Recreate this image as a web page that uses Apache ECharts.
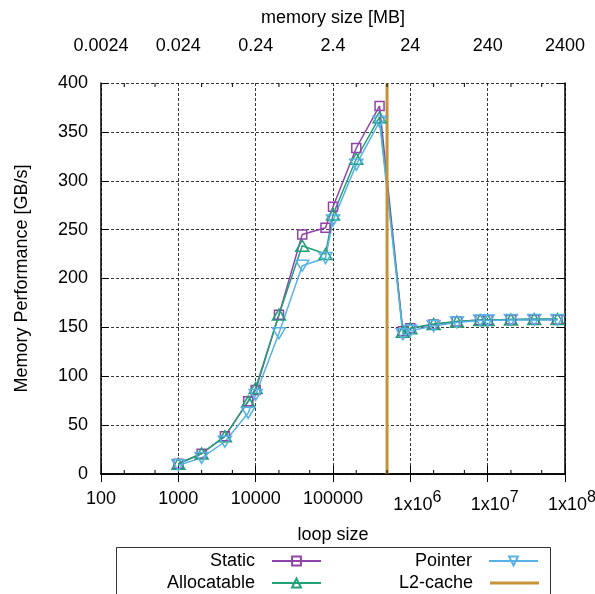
<!DOCTYPE html>
<html>
<head>
<meta charset="utf-8">
<script src="https://cdn.jsdelivr.net/npm/echarts@6/dist/echarts.min.js"></script>
<style>
html, body { margin: 0; padding: 0; background: #fff; }
#chart { width: 595px; height: 594px; }
</style>
</head>
<body>
<div id="chart"></div>
<script>
// Loop sizes of the benchmark runs
const loopSize = [1000, 2000, 4000, 8000, 10000, 20000, 40000, 80000, 100000, 200000, 400000,
  800000, 1000000, 2000000, 4000000, 8000000, 10000000, 20000000, 40000000, 80000000];
// Memory performance in GB/s for each array kind
const staticPerf = [10.5, 20.7, 38.5, 74.5, 86, 163, 245, 252, 273.5, 333.5, 376.5,
  146, 149, 153, 156, 157.5, 157.5, 158, 158, 158];
const allocatablePerf = [10.5, 21, 38.5, 74, 88, 163, 233.5, 225, 265.5, 322.5, 365,
  145.5, 149, 153.5, 156, 157.5, 157.5, 158, 158.5, 158.5];
const pointerPerf = [9, 16.5, 33, 62.5, 81, 144, 213, 221, 259.5, 316.5, 360.5,
  143, 146.5, 151.5, 155, 157, 157, 157.5, 157.5, 157.5];
// Loop size at which the data no longer fits in L2 cache
const l2CacheLoop = 500000;

// Axis tick labels (one per decade, 100 .. 1e8)
const bottomTickLabels = ['100', '1000', '10000', '100000', '1x10^6', '1x10^7', '1x10^8'];
const topTickLabels = ['0.0024', '0.024', '0.24', '2.4', '24', '240', '2400'];
const minorTickFactors = [2, 5];

const FONT = 'Liberation Sans, Arial, Helvetica, sans-serif';
const FS = 18;
const C_STATIC = '#9044aa';
const C_ALLOC = '#22a078';
const C_POINTER = '#58b2e6';
const C_L2 = '#c4933a';
const X_MIN = 100, X_MAX = 1e8, Y_MIN = 0, Y_MAX = 400;

const zip = (xs, ys) => xs.map((x, i) => [x, ys[i]]);
const decadeIndex = v => Math.round(Math.log10(v)) - 2;

// minor ticks at 2x and 5x of each decade
const minorTicks = [];
for (let d = X_MIN; d < X_MAX; d *= 10) {
  minorTickFactors.forEach(f => minorTicks.push([d * f, 0]));
}

const gridLine = { show: true, lineStyle: { color: 'rgba(0,0,0,0.78)', width: 1, type: [3, 2] } };
const axisLine = { show: true, lineStyle: { color: '#000', width: 1.5 } };
const tickIn = { show: true, inside: true, length: 8, lineStyle: { color: '#000', width: 1 } };

function legendAt(item, right, top, extra) {
  return Object.assign({
    data: [item], right: right, top: top, orient: 'horizontal', align: 'right',
    itemWidth: 49, itemHeight: 11, padding: 0, selectedMode: false,
    textStyle: { fontFamily: FONT, fontSize: FS, color: '#000', padding: [0, 12, 0, 0] }
  }, extra || {});
}

function lineSeries(name, values, color, symbol, size, rotate) {
  return {
    type: 'line', name: name, data: zip(loopSize, values),
    xAxisIndex: 0, yAxisIndex: 0,
    symbol: symbol, symbolSize: size, symbolRotate: rotate || 0,
    lineStyle: { color: color, width: 1.5 },
    itemStyle: { color: 'rgba(255,255,255,0)', borderColor: color, borderWidth: 1.5 },
    emphasis: { disabled: true }, animation: false
  };
}

const chart = echarts.init(document.getElementById('chart'), null, { renderer: 'canvas' });
chart.setOption({
  backgroundColor: '#fff',
  animation: false,
  textStyle: { fontFamily: FONT },
  grid: { left: 101, right: 30, top: 83, bottom: 120, containLabel: false, outerBoundsMode: 'none' },
  xAxis: [{
    type: 'log', logBase: 10, min: X_MIN, max: X_MAX, splitNumber: 6, position: 'bottom',
    name: 'loop size', nameLocation: 'middle', nameGap: 52, nameMoveOverlap: false,
    nameTextStyle: { fontFamily: FONT, fontSize: FS, color: '#000' },
    axisLine: axisLine, axisTick: tickIn, splitLine: gridLine,
    axisLabel: {
      margin: 16, color: '#000', fontFamily: FONT, fontSize: FS,
      showMinLabel: true, showMaxLabel: true,
      formatter: function (v) {
        const s = bottomTickLabels[decadeIndex(v)];
        if (s === undefined) return '';
        if (s.indexOf('^') < 0) return s;
        const parts = s.split('^');
        return '{b|' + parts[0] + '}{s|' + parts[1] + '}';
      },
      rich: {
        b: { fontFamily: FONT, fontSize: FS, color: '#000', padding: [0, 0, 0, 14] },
        s: { fontFamily: FONT, fontSize: 16, color: '#000', padding: [0, 0, 14, 0] }
      }
    }
  }, {
    type: 'log', logBase: 10, min: X_MIN, max: X_MAX, splitNumber: 6, position: 'top',
    name: 'memory size [MB]', nameLocation: 'middle', nameGap: 56, nameMoveOverlap: false,
    nameTextStyle: { fontFamily: FONT, fontSize: FS, color: '#000' },
    axisLine: axisLine, axisTick: tickIn, splitLine: { show: false },
    axisLabel: {
      margin: 28, color: '#000', fontFamily: FONT, fontSize: FS,
      showMinLabel: true, showMaxLabel: true,
      formatter: function (v) { return topTickLabels[decadeIndex(v)] || ''; }
    }
  }],
  yAxis: [{
    type: 'value', min: Y_MIN, max: Y_MAX, interval: 50, position: 'left',
    name: 'Memory Performance [GB/s]', nameLocation: 'middle', nameGap: 70, nameMoveOverlap: false,
    nameTextStyle: { fontFamily: FONT, fontSize: FS, color: '#000' },
    axisLine: axisLine, axisTick: tickIn, splitLine: gridLine,
    axisLabel: { margin: 13, color: '#000', fontFamily: FONT, fontSize: FS }
  }, {
    type: 'value', min: Y_MIN, max: Y_MAX, interval: 50, position: 'right',
    axisLine: axisLine, axisTick: tickIn, splitLine: { show: false },
    axisLabel: { show: false }
  }],
  legend: [
    legendAt('Static', 273, 552),
    legendAt('Allocatable', 273, 574),
    legendAt('Pointer', 56, 552),
    legendAt({ name: 'L2-cache', icon: 'rect' }, 56, 574, { itemHeight: 3 })
  ],
  graphic: [{
    type: 'rect', shape: { x: 116.5, y: 547.5, width: 434, height: 60 },
    style: { fill: 'none', stroke: '#333', lineWidth: 1 }, silent: true, z: 0
  }],
  series: [
    {
      type: 'custom', name: 'minor-ticks', data: minorTicks, silent: true,
      xAxisIndex: 0, yAxisIndex: 0, clip: false, z: 5,
      renderItem: function (params, api) {
        const x = api.value(0);
        const b = api.coord([x, Y_MIN]);
        const t = api.coord([x, Y_MAX]);
        return {
          type: 'group', children: [
            { type: 'line', shape: { x1: b[0], y1: b[1], x2: b[0], y2: b[1] - 4 }, style: { stroke: '#000', lineWidth: 1 } },
            { type: 'line', shape: { x1: t[0], y1: t[1], x2: t[0], y2: t[1] + 4 }, style: { stroke: '#000', lineWidth: 1 } }
          ]
        };
      }
    },
    lineSeries('Static', staticPerf, C_STATIC, 'rect', 9),
    lineSeries('Allocatable', allocatablePerf, C_ALLOC, 'triangle', [13, 11]),
    lineSeries('Pointer', pointerPerf, C_POINTER, 'triangle', [13, 11], 180),
    {
      type: 'line', name: 'L2-cache', data: [[l2CacheLoop, Y_MIN], [l2CacheLoop, Y_MAX]],
      xAxisIndex: 0, yAxisIndex: 0, symbol: 'none',
      lineStyle: { color: C_L2, width: 3 }, itemStyle: { color: C_L2 },
      emphasis: { disabled: true }, animation: false
    }
  ]
});
</script>
</body>
</html>
